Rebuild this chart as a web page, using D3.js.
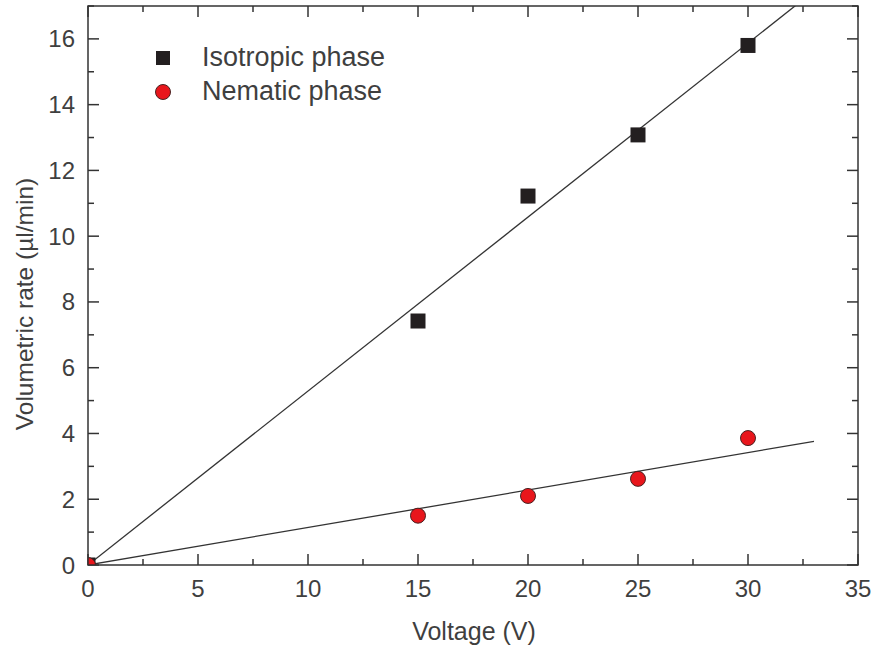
<!DOCTYPE html>
<html>
<head>
<meta charset="utf-8">
<script src="https://cdn.jsdelivr.net/npm/d3@7"></script>
<style>
  body { margin: 0; background: #fff; }
  text { font-family: "Liberation Sans", Arial, sans-serif; fill: #3f3f3f; }
</style>
</head>
<body>
<svg width="875" height="652"></svg>
<script>
const voltage = [0, 15, 20, 25, 30];
const isotropic = [0, 7.42, 11.22, 13.08, 15.8];
const nematic = [0, 1.5, 2.1, 2.62, 3.86];
const fitX = [0, 33];
const isoSlope = 0.529;
const nemSlope = 0.114;
const xTicks = [0, 5, 10, 15, 20, 25, 30, 35];
const yTicks = [0, 2, 4, 6, 8, 10, 12, 14, 16];

const mLeft = 88, mRight = 858, mTop = 6, mBottom = 565;

const svg = d3.select("svg");

const x = d3.scaleLinear().domain([0, 35]).range([mLeft, mRight]);
const y = d3.scaleLinear().domain([0, 17]).range([mBottom, mTop]);

svg.append("defs").append("clipPath").attr("id", "plot")
  .append("rect")
  .attr("x", mLeft).attr("y", mTop)
  .attr("width", mRight - mLeft).attr("height", mBottom - mTop);

// ticks on all four sides, pointing inward
const xMinor = d3.range(0, 35.01, 2.5);
const yMinor = d3.range(0, 17.01, 1);
const tick = svg.append("g").attr("stroke", "#333").attr("stroke-width", 1.5);
xMinor.forEach(v => {
  const len = v % 5 === 0 ? 11 : 6;
  tick.append("line").attr("x1", x(v)).attr("x2", x(v)).attr("y1", mBottom).attr("y2", mBottom - len);
  tick.append("line").attr("x1", x(v)).attr("x2", x(v)).attr("y1", mTop).attr("y2", mTop + len);
});
yMinor.forEach(v => {
  const len = v % 2 === 0 ? 11 : 6;
  tick.append("line").attr("y1", y(v)).attr("y2", y(v)).attr("x1", mLeft).attr("x2", mLeft + len);
  tick.append("line").attr("y1", y(v)).attr("y2", y(v)).attr("x1", mRight).attr("x2", mRight - len);
});

svg.selectAll(".xl").data(xTicks).enter().append("text")
  .attr("x", d => x(d)).attr("y", 597)
  .attr("text-anchor", "middle").attr("font-size", 24)
  .text(d => d);

svg.selectAll(".yl").data(yTicks).enter().append("text")
  .attr("x", mLeft - 13).attr("y", d => y(d) + 8.5)
  .attr("text-anchor", "end").attr("font-size", 24)
  .text(d => d);

svg.append("text")
  .attr("x", 474).attr("y", 640)
  .attr("text-anchor", "middle").attr("font-size", 25)
  .text("Voltage (V)");

svg.append("text")
  .attr("transform", "translate(33,304) rotate(-90)")
  .attr("text-anchor", "middle").attr("font-size", 24.5)
  .text("Volumetric rate (\u00b5l/min)");

// fit lines
const plot = svg.append("g").attr("clip-path", "url(#plot)");
[isoSlope, nemSlope].forEach(s => {
  plot.append("line")
    .attr("x1", x(fitX[0])).attr("y1", y(fitX[0] * s))
    .attr("x2", x(fitX[1])).attr("y2", y(fitX[1] * s))
    .attr("stroke", "#333").attr("stroke-width", 1.3);
});

// markers
plot.selectAll(".iso").data(voltage).enter().append("rect")
  .attr("x", d => x(d) - 7.5).attr("y", (d, i) => y(isotropic[i]) - 7.5)
  .attr("width", 15).attr("height", 15)
  .attr("fill", "#231f20");

plot.selectAll(".nem").data(voltage).enter().append("circle")
  .attr("cx", d => x(d)).attr("cy", (d, i) => y(nematic[i]))
  .attr("r", 7.5)
  .attr("fill", "#e8161c").attr("stroke", "#4a2222").attr("stroke-width", 1);

// frame
svg.append("rect")
  .attr("x", mLeft).attr("y", mTop)
  .attr("width", mRight - mLeft).attr("height", mBottom - mTop)
  .attr("fill", "none").attr("stroke", "#333").attr("stroke-width", 1.5);

// legend
const lg = svg.append("g");
lg.append("rect").attr("x", 156).attr("y", 51).attr("width", 14).attr("height", 14).attr("fill", "#231f20");
lg.append("text").attr("x", 202).attr("y", 66).attr("font-size", 27).text("Isotropic phase");
lg.append("circle").attr("cx", 163).attr("cy", 92).attr("r", 7.5)
  .attr("fill", "#e8161c").attr("stroke", "#4a2222").attr("stroke-width", 1);
lg.append("text").attr("x", 202).attr("y", 100).attr("font-size", 27).text("Nematic phase");
</script>
</body>
</html>
